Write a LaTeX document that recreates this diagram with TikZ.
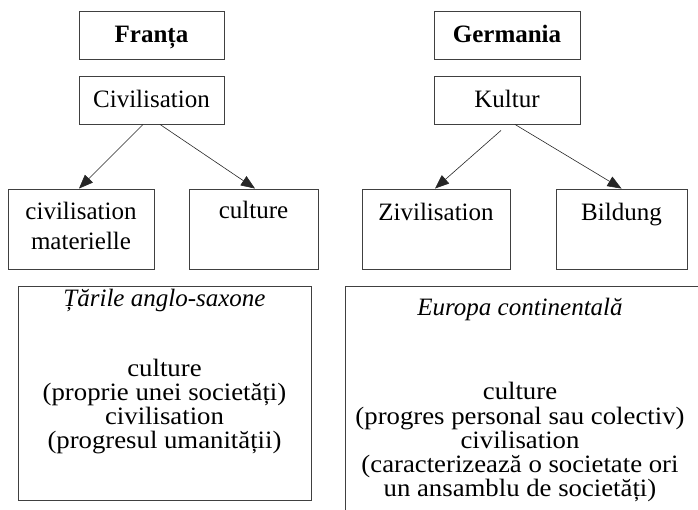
\documentclass[tikz,border=0pt]{standalone}
\usepackage{fontspec}
\setmainfont{Liberation Serif}
\newfontfamily\widefont[FakeStretch=1.07]{Liberation Serif}
\usetikzlibrary{arrows.meta}
\begin{document}
\begin{tikzpicture}[x=1pt,y=-1pt,
  box/.style n args={2}{draw=black!75,line width=0.9pt,inner sep=0pt,minimum width=#1,minimum height=#2},
  txt/.style={inner sep=0pt,anchor=base,font=\fontsize{25}{25}\selectfont},
  body/.style={inner sep=0pt,anchor=base,font=\widefont\fontsize{25}{25}\selectfont},
  arr/.style={-{Triangle[length=14pt,width=11pt]},line width=0.6pt,draw=black!85}
]
\useasboundingbox (0,0) rectangle (698,510);
\clip (0,0) rectangle (698,510);
% top left
\node[box={145pt}{48pt}] (fr) at (151.5,35) {};
\node[txt] (frt) at (151.5,43) {\bfseries Franța};
\node[box={145pt}{48pt}] (civ) at (151.5,100) {};
\node[txt] (civt) at (151.5,108) {Civilisation};
\node[box={146pt}{80pt}] (cm) at (81,229) {};
\node[txt] (cmt1) at (81,220) {civilisation};
\node[txt] (cmt2) at (81,250) {materielle};
\node[box={129pt}{80pt}] (cu) at (253.5,229) {};
\node[txt] (cut) at (253.5,219) {culture};
% top right
\node[box={146pt}{48pt}] (ge) at (507,35) {};
\node[txt] (get) at (507,43) {\bfseries Germania};
\node[box={146pt}{48pt}] (ku) at (507,100) {};
\node[txt] (kut) at (507,108) {Kultur};
\node[box={148pt}{80pt}] (zi) at (436,229) {};
\node[txt] (zit) at (436,221) {Zivilisation};
\node[box={131pt}{80pt}] (bi) at (621.5,229) {};
\node[txt] (bit) at (621.5,221) {Bildung};
% arrows
\draw[arr] ([xshift=-8.5pt]civ.south) -- ([xshift=-2pt]cm.north);
\draw[arr] ([xshift=8.5pt]civ.south) -- ([xshift=1.5pt]cu.north);
\draw[arr] ([xshift=-6pt,yshift=-6pt]ku.south) -- ([xshift=-1pt]zi.north);
\draw[arr] ([xshift=8pt]ku.south) -- (bi.north);
% bottom left
\node[box={293pt}{214pt},anchor=north west] (lb) at (18,286) {};
\node[txt] (lbt) at (164.5,307) {\itshape Țările anglo-saxone};
\node[body] (lb1) at (164.5,376) {culture};
\node[body] (lb2) at (164.5,400) {(proprie unei societăți)};
\node[body] (lb3) at (164.5,424) {civilisation};
\node[body] (lb4) at (164.5,448) {(progresul umanității)};
% bottom right
\node[box={360pt}{240pt},anchor=north west] (rb) at (345,286) {};
\node[txt] (rbt) at (520,316) {\itshape Europa continentală};
\node[body] (rb1) at (520,399) {culture};
\node[body] (rb2) at (520,424) {(progres personal sau colectiv)};
\node[body] (rb3) at (520,448) {civilisation};
\node[body] (rb4) at (520,472) {(caracterizează o societate ori};
\node[body] (rb5) at (520,496) {un ansamblu de societăți)};
\end{tikzpicture}
\end{document}
